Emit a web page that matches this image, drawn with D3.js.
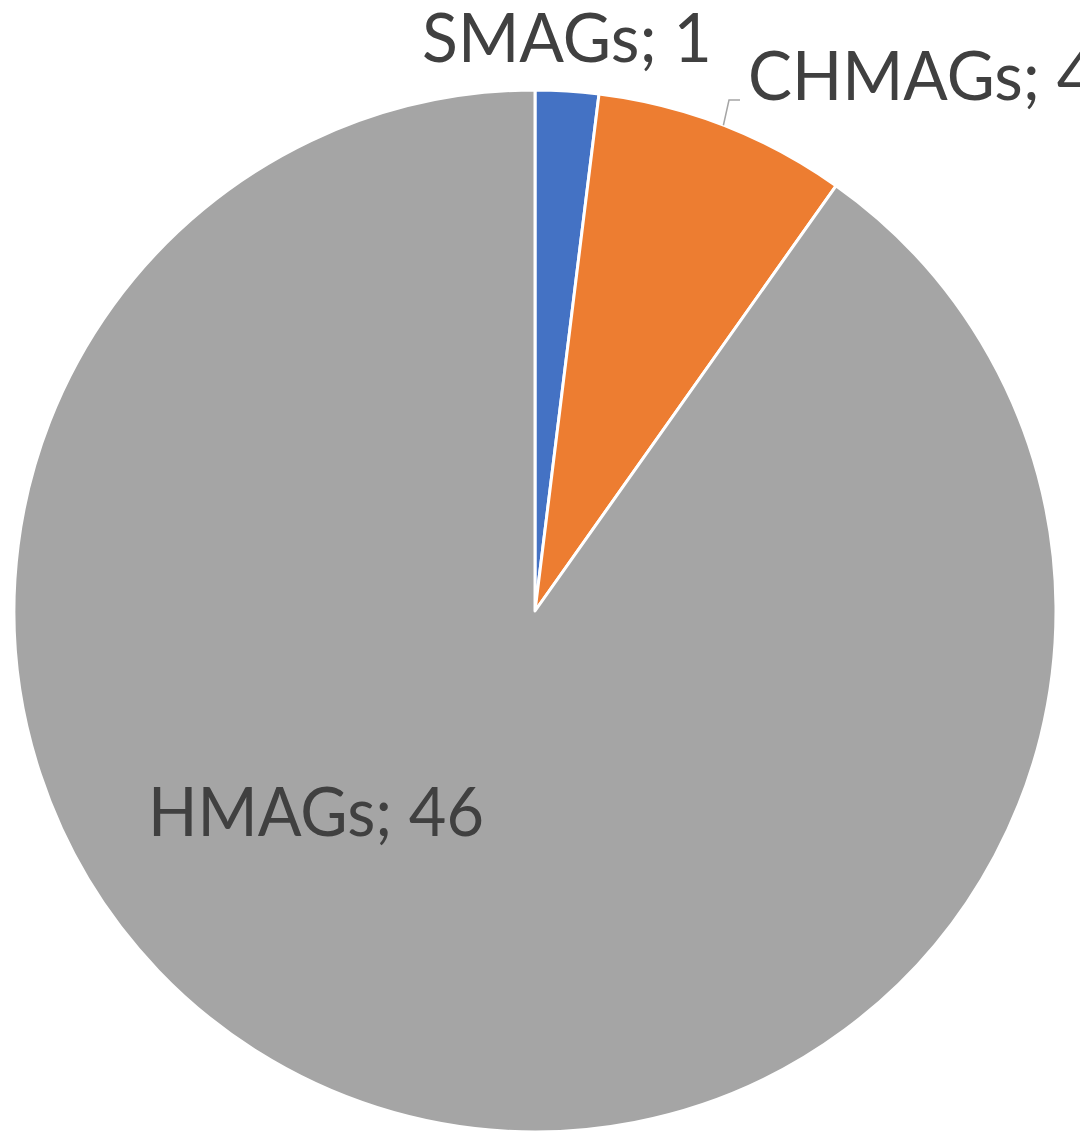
<!DOCTYPE html>
<html>
<head>
<meta charset="utf-8">
<script src="https://cdn.jsdelivr.net/npm/d3@7"></script>
<style>
  html, body { margin: 0; padding: 0; background: #fff; overflow: hidden; }
</style>
</head>
<body>
<div id="canvas"></div>
<script>
const categories = ["SMAGs", "CHMAGs", "HMAGs"];
const values = [1, 4, 46];
const colors = ["#4472C4", "#ED7D31", "#A5A5A5"];

const width = 1080;
const height = 1132;
const cx = 535, cy = 611, radius = 521;

const svg = d3.select("#canvas").append("svg")
  .attr("width", width)
  .attr("height", height);

const g = svg.append("g").attr("transform", `translate(${cx},${cy})`);

const data = categories.map((c, i) => ({ name: c, value: values[i], color: colors[i] }));

const pie = d3.pie().value(d => d.value).sort(null);
const arc = d3.arc().innerRadius(0).outerRadius(radius);
const arcs = pie(data);

g.selectAll("path")
  .data(arcs)
  .enter()
  .append("path")
  .attr("d", arc)
  .attr("fill", d => d.data.color)
  .attr("stroke", "#fff")
  .attr("stroke-width", 3)
  .attr("stroke-linejoin", "round");

// label layout (Excel "best fit" style placement)
const labelPos = [
  { x: 567, y: 62, len: 290 },
  { x: 748, y: 100, len: 347, anchor: "start" },
  { x: 316, y: 836, len: 336 }
];

svg.selectAll("text.lbl")
  .data(arcs)
  .enter()
  .append("text")
  .attr("class", "lbl")
  .attr("x", (d, i) => labelPos[i].x)
  .attr("y", (d, i) => labelPos[i].y)
  .attr("text-anchor", (d, i) => labelPos[i].anchor || "middle")
  .attr("textLength", (d, i) => labelPos[i].len)
  .attr("lengthAdjust", "spacingAndGlyphs")
  .style("font-family", "Lato, 'Open Sans', sans-serif")
  .style("font-size", "68px")
  .style("fill", "#404040")
  .text(d => `${d.data.name}; ${d.data.value}`);

// leader line for CHMAGs: from the slice edge up to the label
const a0 = 0.37;
svg.append("path")
  .attr("d", `M${cx + radius * Math.sin(a0)},${cy - radius * Math.cos(a0)} L729,100 L740,100`)
  .attr("fill", "none")
  .attr("stroke", "#A5A5A5")
  .attr("stroke-width", 1.5);
</script>
</body>
</html>
